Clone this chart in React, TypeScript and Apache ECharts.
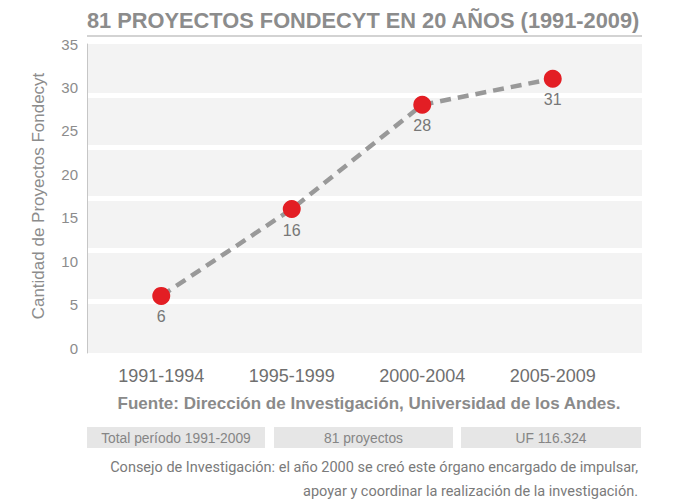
import React, { useEffect, useRef } from "react";
import * as echarts from "echarts";

const title = "81 PROYECTOS FONDECYT EN 20 AÑOS (1991-2009)";
const categories = ["1991-1994", "1995-1999", "2000-2004", "2005-2009"];
const values = [6, 16, 28, 31];
const yName = "Cantidad de Proyectos Fondecyt";
const yMin = 0;
const yMax = 35;
const yStep = 5;
const source = "Fuente: Dirección de Investigación, Universidad de los Andes.";
const summary = ["Total período 1991-2009", "81 proyectos", "UF 116.324"];
const notes = [
  "Consejo de Investigación: el año 2000 se creó este órgano encargado de impulsar,",
  "apoyar y coordinar la realización de la investigación.",
];

const SANS = "'Liberation Sans', Arial, Helvetica, sans-serif";

export default function App() {
  const ref = useRef<HTMLDivElement>(null);
  useEffect(() => {
    document.body.style.margin = "0";
    if (!ref.current) return;
    const chart = echarts.init(ref.current, null, { renderer: "svg" });
    const boxes = [
      { x: 87, w: 178 },
      { x: 274, w: 179 },
      { x: 461, w: 180 },
    ];
    const graphics: any[] = [
      {
        type: "text",
        x: 87,
        y: 20,
        style: {
          text: title,
          fill: "#8c8c8c",
          fontSize: 21.8,
          fontWeight: "bold",
          fontFamily: SANS,
          textAlign: "left",
          textVerticalAlign: "middle",
        },
      },
      {
        type: "line",
        shape: { x1: 87, y1: 36, x2: 642, y2: 36 },
        style: { stroke: "#c4c4c4", lineWidth: 1.5 },
      },
      {
        type: "text",
        x: 369,
        y: 403,
        style: {
          text: source,
          fill: "#8a8a8a",
          fontSize: 17,
          fontWeight: "bold",
          fontFamily: SANS,
          textAlign: "center",
          textVerticalAlign: "middle",
        },
      },
    ];
    summary.forEach((s, i) => {
      graphics.push({
        type: "rect",
        shape: { x: boxes[i].x, y: 427, width: boxes[i].w, height: 21 },
        style: { fill: "#e6e6e6" },
      });
      graphics.push({
        type: "text",
        x: boxes[i].x + boxes[i].w / 2,
        y: 438,
        style: {
          text: s,
          fill: "#858585",
          fontSize: 13.8,
          fontFamily: SANS,
          textAlign: "center",
          textVerticalAlign: "middle",
        },
      });
    });
    notes.forEach((n, i) => {
      graphics.push({
        type: "text",
        x: 638,
        y: 467 + i * 24,
        style: {
          text: n,
          fill: "#7a7a7a",
          fontSize: 14.5,
          fontFamily: "Roboto, sans-serif",
          textAlign: "right",
          textVerticalAlign: "middle",
        },
      });
    });

    chart.setOption({
      animation: false,
      grid: [
        {
          left: 87,
          top: 44,
          width: 555,
          height: 309,
          show: true,
          backgroundColor: "#f3f3f3",
          borderWidth: 0,
        },
        { left: 96, top: 44, width: 522, height: 304 },
      ],
      xAxis: [
        { gridIndex: 0, type: "category", show: false, data: categories },
        {
          gridIndex: 1,
          type: "category",
          data: categories,
          boundaryGap: true,
          axisLine: { show: false },
          axisTick: { show: false },
          axisLabel: {
            fontSize: 18,
            color: "#6f6f6f",
            margin: 19,
            fontFamily: SANS,
          },
        },
      ],
      yAxis: [
        {
          gridIndex: 0,
          type: "value",
          min: 0,
          max: 6,
          interval: 1,
          axisLabel: { show: false },
          axisTick: { show: false },
          axisLine: { show: true, lineStyle: { color: "#c6c6c6", width: 1 } },
          splitLine: {
            show: true,
            showMinLine: false,
            showMaxLine: false,
            lineStyle: { color: "#ffffff", width: 5 },
          },
        },
        {
          gridIndex: 1,
          type: "value",
          min: yMin,
          max: yMax,
          interval: yStep,
          name: yName,
          nameLocation: "middle",
          nameGap: 49,
          nameTextStyle: { fontSize: 17, color: "#8c8c8c", fontFamily: SANS },
          axisLabel: { fontSize: 15, color: "#8c8c8c", margin: 18, fontFamily: SANS },
          axisLine: { show: false },
          axisTick: { show: false },
          splitLine: { show: false },
        },
      ],
      series: [
        {
          type: "line",
          xAxisIndex: 1,
          yAxisIndex: 1,
          data: values,
          symbol: "circle",
          symbolSize: 18,
          itemStyle: { color: "#e31e24" },
          lineStyle: { color: "#999999", width: 4.5, type: [11, 7] },
          label: {
            show: true,
            position: "bottom",
            distance: 4,
            fontSize: 16,
            color: "#777777",
            fontFamily: SANS,
          },
          z: 5,
        },
      ],
      graphic: graphics,
    });
    return () => chart.dispose();
  }, []);
  return <div ref={ref} style={{ width: 674, height: 501 }} />;
}
